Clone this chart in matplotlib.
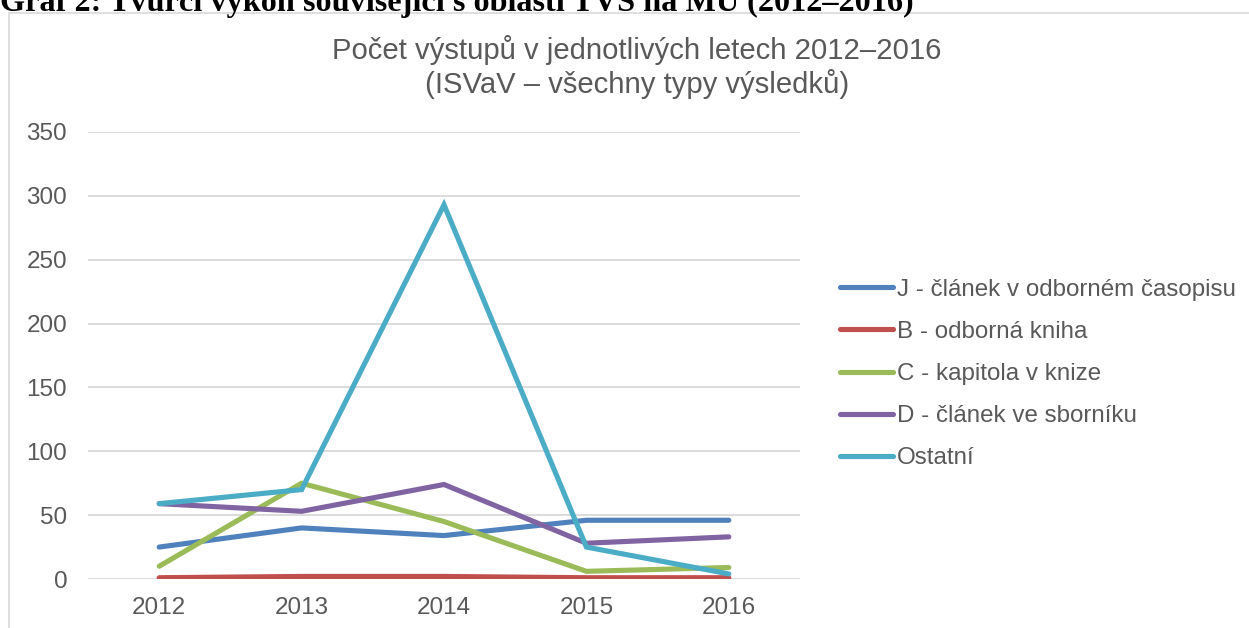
import matplotlib
matplotlib.use("Agg")
import matplotlib.pyplot as plt
from matplotlib.patches import Rectangle

# data
roky = ["2012", "2013", "2014", "2015", "2016"]
serie_nazvy = ["J - článek v odborném časopisu", "B - odborná kniha",
               "C - kapitola v knize", "D - článek ve sborníku", "Ostatní"]
J_clanek = [25, 40, 34, 46, 46]
B_kniha = [1, 2, 2, 1, 1]
C_kapitola = [10, 75, 45, 6, 9]
D_sbornik = [59, 53, 74, 28, 33]
ostatni = [59, 70, 293, 25, 4]
barvy = ["#4F81BD", "#C0504D", "#9BBB59", "#8064A2", "#4BACC6"]
yticky = [0, 50, 100, 150, 200, 250, 300, 350]

plt.rcParams['font.family'] = ['Liberation Sans', 'DejaVu Sans']
seda = "#595959"

fig = plt.figure(figsize=(12.49, 6.28), dpi=100)
W, H = 1249, 628

# nadpis grafu z dokumentu (oriznuty nahore)
fig.text(0.0, 1 - 11 / H, "Graf 2: Tvůrčí výkon související s oblastí TVS na MU (2012–2016)",
         family=['Liberation Serif', 'DejaVu Serif'], weight='bold', fontsize=23.2,
         color='black', ha='left', va='baseline')

# ramecek grafu
fig.patches.append(Rectangle((9 / W, -0.1), 1.2, 1 - 13 / H + 0.1, transform=fig.transFigure,
                             fill=False, edgecolor="#D9D9D9", linewidth=1.2))

ax = fig.add_axes([88 / W, 1 - 579 / H, (800 - 88) / W, (579 - 132) / H])
x = list(range(len(roky)))
for data, nazev, barva in zip([J_clanek, B_kniha, C_kapitola, D_sbornik, ostatni], serie_nazvy, barvy):
    ax.plot(x, data, color=barva, linewidth=3.7, solid_capstyle='round',
            solid_joinstyle='miter', label=nazev)

ax.set_xlim(-0.5, 4.5)
ax.set_ylim(0, 350)
ax.set_yticks(yticky)
ax.set_xticks(x)
ax.set_xticklabels(roky)
ax.tick_params(axis='both', length=0, labelsize=17.5, labelcolor=seda)
ax.tick_params(axis='y', pad=15)
ax.tick_params(axis='x', pad=13)
ax.grid(axis='y', color="#D9D9D9", linewidth=1.3)
ax.set_axisbelow(True)
for s in ax.spines.values():
    s.set_visible(False)

fig.text(637 / W, 1 - 67 / H, "Počet výstupů v jednotlivých letech 2012–2016\n(ISVaV – všechny typy výsledků)",
         ha='center', va='center', fontsize=21.1, color=seda, linespacing=1.17)

fig.legend(loc='center left', bbox_to_anchor=(840 / W, 1 - 374 / H), frameon=False,
           fontsize=17.4, labelcolor=seda, handlelength=2.2, handletextpad=0.15,
           labelspacing=0.83, borderpad=0, borderaxespad=0)

fig.savefig("out.png", dpi=100)
